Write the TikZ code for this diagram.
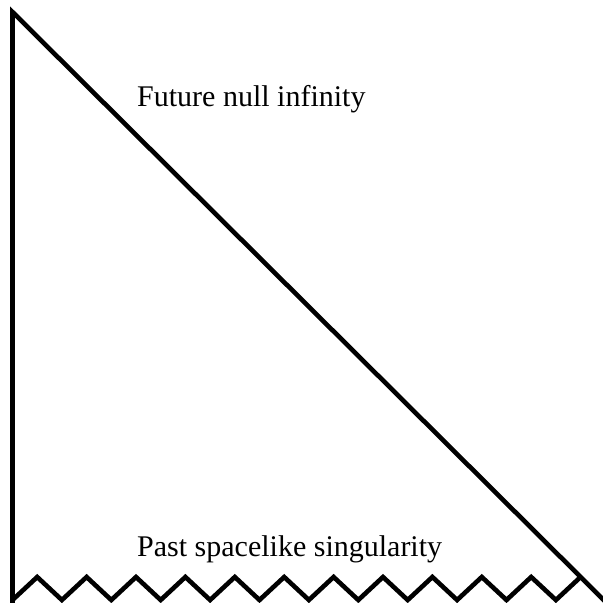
\documentclass[tikz,border=0pt]{standalone}
\usepackage{fontspec}
\setmainfont{Liberation Serif}
\begin{document}
\begin{tikzpicture}[x=1pt,y=1pt,
  edge/.style={line width=4.6pt,line join=miter,black},
  lbl/.style={font=\fontsize{30}{36}\selectfont,anchor=base west,inner sep=0pt}]
\useasboundingbox (0,0) rectangle (603,-603);
\clip (0,0) rectangle (603,-603);
\coordinate (top) at (12.5,-12);
\coordinate (bl) at (12.5,-610);
\coordinate (br) at (614.7,-610.9);
\coordinate (zs) at (12.5,-600);
\draw[edge] (bl) -- (top) -- (br);
\draw[edge] (zs) \foreach \i in {1,...,11} { -- ++(24.7,23) -- ++(24.7,-23) } -- ++(24.7,23);
\node[lbl] (fni) at (137,-106) {Future null infinity};
\node[lbl] (pss) at (137,-556) {Past spacelike singularity};
\end{tikzpicture}
\end{document}
